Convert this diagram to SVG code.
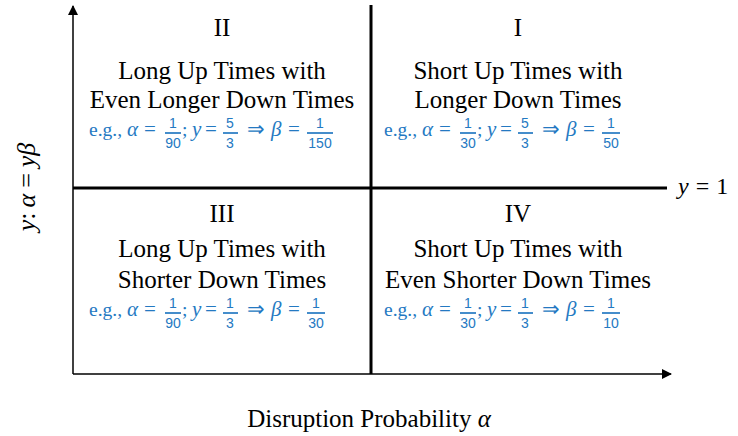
<svg xmlns="http://www.w3.org/2000/svg" width="738" height="436" viewBox="0 0 738 436">
<style>
.t{font-family:"Liberation Serif","Times New Roman",serif;font-size:25px;fill:#000;text-anchor:middle}
.m{font-family:"Liberation Serif","Times New Roman",serif;font-style:italic;fill:#000}
.b{font-family:"Liberation Serif","Times New Roman",serif;font-size:19.5px;fill:#2479C2}
.bi{font-style:italic;font-size:21px}
.eq{font-size:21px}
.d{font-family:"Liberation Sans",Arial,sans-serif;font-size:14px;fill:#2479C2;text-anchor:middle}
.bar{stroke:#2479C2;stroke-width:1.7}
.ax{stroke:#000;stroke-width:1.5;fill:none}
.dv{stroke:#000;stroke-width:3;fill:none}
</style>
<defs>
<marker id="ah" viewBox="0 0 10 10" refX="9" refY="5" markerWidth="10" markerHeight="10" markerUnits="userSpaceOnUse" orient="auto">
<path d="M0,0 L10,5 L0,10 z" fill="#000"/>
</marker>
</defs>
<rect width="738" height="436" fill="#fff"/>
<g id="connectors">
<line class="ax" x1="73" y1="374" x2="73" y2="6" marker-end="url(#ah)"/>
<line class="ax" x1="73" y1="374" x2="671" y2="374" marker-end="url(#ah)"/>
<line class="dv" x1="371" y1="5" x2="371" y2="374"/>
<line class="dv" x1="73" y1="188" x2="667" y2="188"/>
</g>
<g id="axis-labels">
<text class="m" font-size="26" transform="translate(35,187) rotate(-90)" text-anchor="middle">y<tspan font-style="normal">:</tspan><tspan dx="5">α</tspan><tspan font-style="normal" dx="6">=</tspan><tspan dx="6">yβ</tspan></text>
<text class="t" x="369" y="427">Disruption Probability <tspan font-style="italic">α</tspan></text>
<text class="m" font-size="24" x="678" y="194">y<tspan font-style="normal" dx="7">=</tspan><tspan font-style="normal" dx="7">1</tspan></text>
</g>
<g id="q2">
<text class="t" x="222" y="36">II</text>
<text class="t" x="222" y="79">Long Up Times with</text>
<text class="t" x="222" y="108">Even Longer Down Times</text>
<g transform="translate(89,136)">
<text class="b" x="0" y="0">e.g.,</text>
<text class="b bi" x="38" y="0">α</text><text class="b eq" x="55" y="0">=</text>
<text class="d" x="84" y="-8">1</text><line class="bar" x1="76" y1="-3" x2="92" y2="-3"/><text class="d" x="84" y="12">90</text>
<text class="b" x="93" y="0">;</text>
<text class="b bi" x="103" y="0">y</text><text class="b eq" x="116" y="0">=</text>
<text class="d" x="141" y="-8">5</text><line class="bar" x1="134" y1="-3" x2="149" y2="-3"/><text class="d" x="141" y="12">3</text>
<text class="b eq" x="158" y="0">⇒</text>
<text class="b bi" x="182" y="0">β</text><text class="b eq" x="199" y="0">=</text>
<text class="d" x="231" y="-8">1</text><line class="bar" x1="218" y1="-3" x2="244" y2="-3"/><text class="d" x="231" y="12">150</text>
</g>
</g>
<g id="q1">
<text class="t" x="518" y="36">I</text>
<text class="t" x="518" y="79">Short Up Times with</text>
<text class="t" x="518" y="108">Longer Down Times</text>
<g transform="translate(384,136)">
<text class="b" x="0" y="0">e.g.,</text>
<text class="b bi" x="38" y="0">α</text><text class="b eq" x="55" y="0">=</text>
<text class="d" x="84" y="-8">1</text><line class="bar" x1="76" y1="-3" x2="92" y2="-3"/><text class="d" x="84" y="12">30</text>
<text class="b" x="93" y="0">;</text>
<text class="b bi" x="103" y="0">y</text><text class="b eq" x="116" y="0">=</text>
<text class="d" x="141" y="-8">5</text><line class="bar" x1="134" y1="-3" x2="149" y2="-3"/><text class="d" x="141" y="12">3</text>
<text class="b eq" x="158" y="0">⇒</text>
<text class="b bi" x="182" y="0">β</text><text class="b eq" x="199" y="0">=</text>
<text class="d" x="227" y="-8">1</text><line class="bar" x1="218" y1="-3" x2="236" y2="-3"/><text class="d" x="227" y="12">50</text>
</g>
</g>
<g id="q3">
<text class="t" x="222" y="222">III</text>
<text class="t" x="222" y="257">Long Up Times with</text>
<text class="t" x="222" y="288">Shorter Down Times</text>
<g transform="translate(89,316)">
<text class="b" x="0" y="0">e.g.,</text>
<text class="b bi" x="38" y="0">α</text><text class="b eq" x="55" y="0">=</text>
<text class="d" x="84" y="-8">1</text><line class="bar" x1="76" y1="-3" x2="92" y2="-3"/><text class="d" x="84" y="12">90</text>
<text class="b" x="93" y="0">;</text>
<text class="b bi" x="103" y="0">y</text><text class="b eq" x="116" y="0">=</text>
<text class="d" x="141" y="-8">1</text><line class="bar" x1="134" y1="-3" x2="149" y2="-3"/><text class="d" x="141" y="12">3</text>
<text class="b eq" x="158" y="0">⇒</text>
<text class="b bi" x="182" y="0">β</text><text class="b eq" x="199" y="0">=</text>
<text class="d" x="227" y="-8">1</text><line class="bar" x1="218" y1="-3" x2="236" y2="-3"/><text class="d" x="227" y="12">30</text>
</g>
</g>
<g id="q4">
<text class="t" x="518" y="222">IV</text>
<text class="t" x="518" y="257">Short Up Times with</text>
<text class="t" x="518" y="288">Even Shorter Down Times</text>
<g transform="translate(384,316)">
<text class="b" x="0" y="0">e.g.,</text>
<text class="b bi" x="38" y="0">α</text><text class="b eq" x="55" y="0">=</text>
<text class="d" x="84" y="-8">1</text><line class="bar" x1="76" y1="-3" x2="92" y2="-3"/><text class="d" x="84" y="12">30</text>
<text class="b" x="93" y="0">;</text>
<text class="b bi" x="103" y="0">y</text><text class="b eq" x="116" y="0">=</text>
<text class="d" x="141" y="-8">1</text><line class="bar" x1="134" y1="-3" x2="149" y2="-3"/><text class="d" x="141" y="12">3</text>
<text class="b eq" x="158" y="0">⇒</text>
<text class="b bi" x="182" y="0">β</text><text class="b eq" x="199" y="0">=</text>
<text class="d" x="227" y="-8">1</text><line class="bar" x1="218" y1="-3" x2="236" y2="-3"/><text class="d" x="227" y="12">10</text>
</g>
</g>
</svg>
